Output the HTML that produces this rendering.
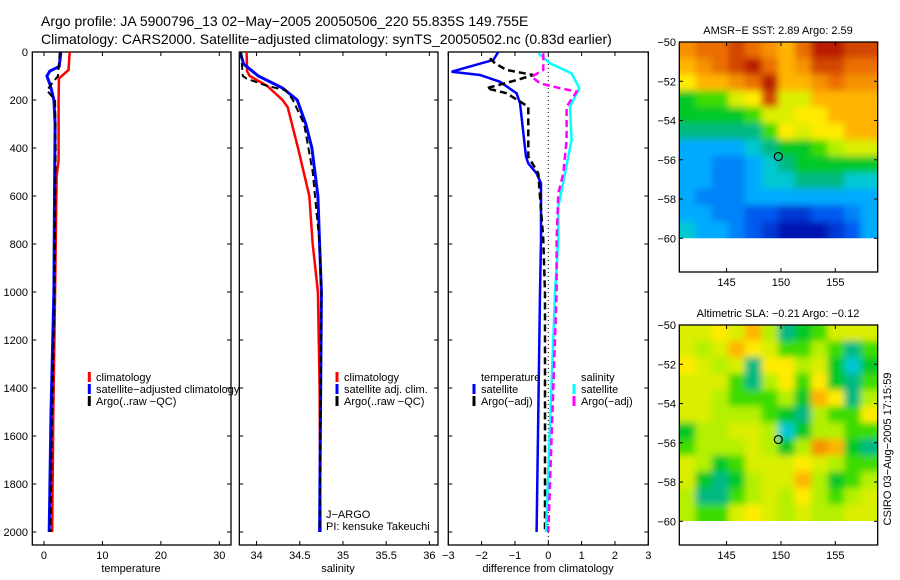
<!DOCTYPE html>
<html><head><meta charset="utf-8"><style>
html,body{margin:0;padding:0;background:#fff;}
svg{display:block;font-family:"Liberation Sans",sans-serif;}
text{font-size:11px;fill:#000;}
</style></head><body>
<svg id="c" width="900" height="580" viewBox="0 0 900 580" xmlns="http://www.w3.org/2000/svg">
<text x="41" y="26" style="font-size:14px">Argo profile: JA 5900796_13 02−May−2005 20050506_220 55.835S 149.755E</text>
<text x="41" y="44" style="font-size:14px">Climatology: CARS2000. Satellite−adjusted climatology: synTS_20050502.nc (0.83d earlier)</text>
<defs>
<filter id="blurA" filterUnits="userSpaceOnUse" x="670" y="30" width="220" height="220"><feGaussianBlur stdDeviation="3.5"/></filter>
<filter id="blurB" filterUnits="userSpaceOnUse" x="670" y="313" width="220" height="220"><feGaussianBlur stdDeviation="3.5"/></filter>
<clipPath id="clipA"><rect x="679.3" y="42" width="198.4" height="196.3"/></clipPath>
<clipPath id="clipB"><rect x="679.3" y="325" width="198.4" height="196"/></clipPath>
</defs>
</svg>
<script>
// ---------- data ----------
const depthTicks=[0,200,400,600,800,1000,1200,1400,1600,1800,2000];
const tempTicks=[0,10,20,30];
const salTicks=[34,34.5,35,35.5,36];
const diffTicks=[-3,-2,-1,0,1,2,3];
const lonTicks=[145,150,155];
const latTicks=[-50,-52,-54,-56,-58,-60];

const tClimD=[0,75,110,200,450,520,1000,1500,2000];
const tClimV=[4.4,4.2,2.55,2.5,2.5,2.15,1.9,1.6,1.4];
const tSatD=[0,60,80,100,140,200,300,600,1000,1500,2000];
const tSatV=[2.9,2.6,1.0,0.5,1.1,1.7,1.9,1.8,1.7,1.2,0.9];
const tArgoD=[0,100,130,160,200,400,1000,1500,2000];
const tArgoV=[2.7,2.4,1.4,0.5,1.9,2.0,1.8,1.4,1.1];

const sClimD=[0,80,100,140,200,230,400,600,800,1000,1400,2000];
const sClimV=[33.885,33.89,33.92,34.12,34.30,34.36,34.48,34.61,34.65,34.71,34.73,34.74];
const sSatD=[0,50,100,150,200,300,400,600,800,1000,2000];
const sSatV=[33.81,33.85,34.02,34.30,34.47,34.57,34.64,34.71,34.73,34.75,34.73];
const sArgoD=[0,100,110,140,160,200,300,500,800,1000,2000];
const sArgoV=[33.82,33.84,33.88,34.11,34.34,34.42,34.55,34.65,34.73,34.75,34.73];

const dtSatD=[0,33,82,96,124,172,213,436,464,506,547,783,1005,2000];
const dtSatV=[-1.5,-1.65,-2.9,-2.05,-1.45,-0.95,-0.85,-0.67,-0.6,-0.35,-0.22,-0.22,-0.25,-0.35];
const dtArgoD=[26,47,75,96,117,151,172,228,436,506,783,1005,2000];
const dtArgoV=[-1.75,-1.6,-1.25,-0.45,-0.95,-1.85,-1.25,-0.6,-0.6,-0.3,-0.15,-0.1,-0.1];
const dsSatD=[5,47,89,151,228,366,506,645,783,1005,2000];
const dsSatV=[-0.3,0.05,0.7,0.93,0.65,0.7,0.5,0.3,0.3,0.2,-0.07];
const dsArgoD=[5,75,103,131,151,165,228,366,506,589,783,1005,2000];
const dsArgoV=[-0.15,-0.15,-0.5,-0.25,0.35,0.85,0.55,0.55,0.45,0.3,0.25,0.25,0.0];

const sstGrid=[
[7.5,8,8,8.5,8,7.5,7,8,9,9,8.5,8.5],
[7,7.5,8,8.5,9,8,7,7.5,8.5,8.5,8,8],
[6.5,7,7,7.5,8,9,7,7,7.5,8,7.5,7.5],
[4.5,5,5,6,6.5,8.5,6,6,7,7,7,7],
[4.5,4.5,4.5,4.5,5,6,6,6.5,6.5,7,7,7],
[4,4,4,4,4,5,6.5,6,6.5,6.5,7,7],
[3,3,3,3,3.5,4,4.5,4.5,5,5.5,6,6],
[3,3,2.5,2.5,3,3.5,4,4.5,4.5,4.5,4.5,4.5],
[3,3,2.5,2.5,3,3.5,3.5,4,4,4,3.5,3.5],
[3,2.5,2.5,2.5,3,3,3,3,3,3,3,3],
[3,3,2.5,2.5,2,2,1.5,1.5,2,2,2.5,3],
[3.5,3,3,2.5,2,1.5,1,1,1,1.5,2,3]];
const slaGrid=[
[6,6,6.5,6,7,5.5,4,4.5,5,6,6,6],
[6,5.5,6,7,6.5,6,5,5,5.5,5,4,5],
[6.5,6,5.5,6,4,6.5,6.5,5.5,6,4.5,3.5,4.5],
[6,6,6,5,4,5.5,6.5,5,6.5,4.5,4,5],
[6,6,5.5,5,5,5,5.5,4.5,7,6.5,4,5.5],
[6,6,5.5,5.5,5.5,5,4.5,4,5.5,5,5,6.5],
[4.5,5.5,5.5,6,6,5.5,3.5,4.5,5.5,5.5,5,5],
[5,5.5,5.5,5.5,6,5.5,4.5,5.5,7.5,7,4.5,4],
[6,5.5,4.5,5,6,6,6,6.5,6,5.5,5,5],
[6,4.5,4,4.5,5.5,6,6,7,5.5,4.5,5,5.5],
[5.5,4,4,5,5.5,6,5.5,6.5,5.5,5,5.5,6],
[5.5,5,5,6,6.5,6,5.5,6,5.5,5.5,6,6]];
const argoLon=149.755, argoLat=-55.835;

// ---------- helpers ----------
const NS="http://www.w3.org/2000/svg";
const svg=document.getElementById('c');
function mk(tag,attrs,parent){const e=document.createElementNS(NS,tag);for(const k in attrs)e.setAttribute(k,attrs[k]);(parent||svg).appendChild(e);return e;}
const Y0=52, YS=0.24;
const yD=d=>Y0+d*YS;
function lin(d0,d1,p0,p1){return v=>p0+(v-d0)*(p1-p0)/(d1-d0);}
const xT=lin(-2,32,32.3,231);
const xS=lin(33.8,36.1,239.3,438);
const xDf=lin(-3,3,448.3,648.3);

function frame(x0,x1,name){
  const r=mk('rect',{x:x0,y:Y0,width:x1-x0,height:545-Y0,fill:'none',stroke:'#000','stroke-width':1.3});
  
  
  depthTicks.forEach(d=>{
    const t1=mk('line',{x1:x0,x2:x0+4,y1:yD(d),y2:yD(d),stroke:'#000'});
    
    
    const t2=mk('line',{x1:x1-4,x2:x1,y1:yD(d),y2:yD(d),stroke:'#000'});
    
    
  });
}
function xticks(ticks,fx,fmt){
  ticks.forEach(v=>{
    const x=fx(v);
    const a=mk('line',{x1:x,x2:x,y1:545,y2:541,stroke:'#000'});
    
    
    const b=mk('line',{x1:x,x2:x,y1:Y0,y2:Y0+4,stroke:'#000'});
    
    
    const t=mk('text',{x:x,y:559,'text-anchor':'middle'});t.textContent=fmt(v);
    
    
  });
}
function line(D,V,fx,color,dash,name,w){
  const pts=D.map((d,i)=>fx(V[i]).toFixed(1)+','+yD(d).toFixed(1)).join(' ');
  const p=mk('polyline',{points:pts,fill:'none',stroke:color,'stroke-width':w||2.5,'stroke-dasharray':dash||'none'});
  
  
}
function txt(x,y,s,name,extra){const t=mk('text',Object.assign({x:x,y:y},extra||{}));t.textContent=s;
  
  return t;}
function legTick(x,y,color){const l=mk('line',{x1:x,x2:x,y1:y-9,y2:y+1,stroke:color,'stroke-width':3});
  
  }

depthTicks.forEach(d=>{txt(28,yD(d)+4,String(d),'y-tick-label',{'text-anchor':'end'});});

// panel 1
frame(32.3,231,'temperature-panel');
xticks(tempTicks,xT,v=>String(v));
txt(131,572,'temperature','x-axis-title-temperature',{'text-anchor':'middle','font-size':'10px'});
line(tClimD,tClimV,xT,'#f00',null,'temp-climatology-line');
line(tSatD,tSatV,xT,'#00f',null,'temp-satellite-line',3);
line(tArgoD,tArgoV,xT,'#000','7,4','temp-argo-line',2);
legTick(89.3,381,'#f00');txt(96,381,'climatology','legend-entry-climatology');
legTick(89.3,393,'#00f');txt(96,393,'satellite−adjusted climatology','legend-entry-satellite');
legTick(89.3,405,'#000');txt(96,405,'Argo(..raw −QC)','legend-entry-argo');

// panel 2
frame(239.3,438,'salinity-panel');
xticks(salTicks,xS,v=>String(v));
txt(338,572,'salinity','x-axis-title-salinity',{'text-anchor':'middle','font-size':'10px'});
line(sClimD,sClimV,xS,'#f00',null,'sal-climatology-line');
line(sSatD,sSatV,xS,'#00f',null,'sal-satellite-line',3);
line(sArgoD,sArgoV,xS,'#000','7,4','sal-argo-line',2);
legTick(337,381,'#f00');txt(344,381,'climatology','legend-entry-climatology');
legTick(337,393,'#00f');txt(344,393,'satellite adj. clim.','legend-entry-satellite');
legTick(337,405,'#000');txt(344,405,'Argo(..raw −QC)','legend-entry-argo');
txt(326,518,'J−ARGO','float-program-label');
txt(326,530,'PI: kensuke Takeuchi','pi-label');

// panel 3
frame(448.3,648.3,'difference-panel');
xticks(diffTicks,xDf,v=>v<0?'−'+Math.abs(v):String(v));
const zl=mk('line',{x1:xDf(0),x2:xDf(0),y1:Y0,y2:545,stroke:'#000','stroke-dasharray':'1,3'});


txt(548,572,'difference from climatology','x-axis-title-difference',{'text-anchor':'middle','font-size':'10px'});
line(dtSatD,dtSatV,xDf,'#00f',null,'diff-temp-satellite-line');
line(dtArgoD,dtArgoV,xDf,'#000','7,4','diff-temp-argo-line');
line(dsSatD,dsSatV,xDf,'#0ff',null,'diff-sal-satellite-line');
line(dsArgoD,dsArgoV,xDf,'#f0f','7,4','diff-sal-argo-line');
txt(481,381,'temperature','legend-title-temperature');
legTick(474,393,'#00f');txt(481,393,'satellite','legend-entry-temp-satellite');
legTick(474,405,'#000');txt(481,405,'Argo(−adj)','legend-entry-temp-argo');
txt(581,381,'salinity','legend-title-salinity');
legTick(574,393,'#0ff');txt(581,393,'satellite','legend-entry-sal-satellite');
legTick(574,405,'#f0f');txt(581,405,'Argo(−adj)','legend-entry-sal-argo');

// ---------- maps ----------
const cmapStops=[[0,[0,0,130]],[1,[0,20,180]],[2,[0,90,240]],[3,[0,170,255]],[3.5,[0,200,210]],[4,[0,185,130]],[4.5,[0,200,40]],[5,[60,220,0]],[5.5,[180,240,0]],[6.5,[255,235,0]],[7,[255,180,0]],[8,[235,110,0]],[9,[185,30,0]],[10,[150,0,0]]];
function cmap(v){
  for(let i=1;i<cmapStops.length;i++){
    if(v<=cmapStops[i][0]){const a=cmapStops[i-1],b=cmapStops[i];const t=(v-a[0])/(b[0]-a[0]);
      return 'rgb('+a[1].map((c,k)=>Math.round(c+(b[1][k]-c)*t)).join(',')+')';}
  }
  return 'rgb(150,0,0)';
}
function map(grid,top,bottom,title,clip,filt,name){
  const fx=lin(140.65,158.9,679.3,877.7);
  const fy=lin(-50,-60,top,top+196.3);
  const g=mk('g',{'clip-path':'url(#'+clip+')'});
  
  
  const inner=mk('g',{filter:'url(#'+filt+')'},g);
  const nR=grid.length,nC=grid[0].length;
  const lonStep=(158.9-140.65)/nC, latStep=10/nR;
  grid.forEach((row,i)=>row.forEach((v,j)=>{
    let x0=fx(140.65+j*lonStep), x1=fx(140.65+(j+1)*lonStep);
    let y0=fy(-50-i*latStep), y1=fy(-50-(i+1)*latStep);
    if(j===0)x0-=8; if(j===nC-1)x1+=8; if(i===0)y0-=8; if(i===nR-1)y1+=8;
    const c=mk('rect',{x:x0-0.5,y:y0-0.5,width:x1-x0+1,height:y1-y0+1,fill:cmap(v)},inner);
    
    
  }));
  const f=mk('rect',{x:679.3,y:top,width:198.4,height:bottom-top,fill:'none',stroke:'#000','stroke-width':1.3});
  
  
  latTicks.forEach(l=>{
    const y=fy(l);
    const a=mk('line',{x1:679.3,x2:683,y1:y,y2:y,stroke:'#000'});
    
    
    const b=mk('line',{x1:874,x2:877.7,y1:y,y2:y,stroke:'#000'});
    
    
    txt(676,y+4,'−'+Math.abs(l),'lat-label',{'text-anchor':'end'});
  });
  lonTicks.forEach(l=>{
    const x=fx(l);
    const a=mk('line',{x1:x,x2:x,y1:bottom,y2:bottom-4,stroke:'#000'});
    
    
    const b=mk('line',{x1:x,x2:x,y1:top,y2:top+4,stroke:'#000'});
    
    
    txt(x,bottom+14,String(l),'lon-label',{'text-anchor':'middle'});
  });
  txt(778,top-8,title,name+'-title',{'text-anchor':'middle','font-size':'10px'});
  const m=mk('circle',{cx:fx(argoLon),cy:fy(argoLat),r:4,fill:'none',stroke:'#000','stroke-width':1.2});
  
  
}
map(sstGrid,42,272,'AMSR−E SST: 2.89 Argo: 2.59','clipA','blurA','sst-map');
map(slaGrid,325,545,'Altimetric SLA: −0.21 Argo: −0.12','clipB','blurB','sla-map');
txt(0,0,'CSIRO 03−Aug−2005 17:15:59','timestamp-label',{transform:'translate(891,449) rotate(-90)','text-anchor':'middle'});
</script>
</body></html>
